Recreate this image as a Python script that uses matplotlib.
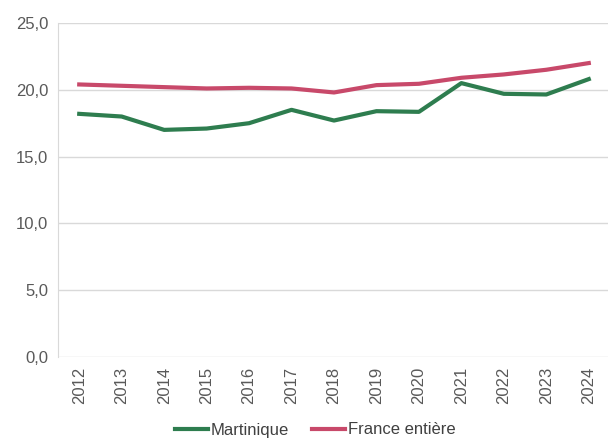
import matplotlib.pyplot as plt

plt.rcParams['font.family'] = ['Liberation Sans', 'DejaVu Sans']

years = ['2012', '2013', '2014', '2015', '2016', '2017', '2018',
         '2019', '2020', '2021', '2022', '2023', '2024']
martinique = [18.2, 18.0, 17.0, 17.1, 17.5, 18.5, 17.7, 18.4, 18.35, 20.5, 19.7, 19.65, 20.8]
france = [20.4, 20.3, 20.2, 20.1, 20.15, 20.1, 19.8, 20.35, 20.45, 20.9, 21.15, 21.5, 22.0]

fig = plt.figure(figsize=(6.08, 4.38), dpi=100)
ax = fig.add_axes([58 / 608, 1 - 357 / 438, 552 / 608, 334 / 438])

x = range(len(years))
ax.plot(x, martinique, color='#2E7D4F', linewidth=3, label='Martinique')
ax.plot(x, france, color='#C8496A', linewidth=3, label='France entière')

ax.set_xlim(-0.5, len(years) - 0.5)
ax.set_ylim(0, 25)
ax.set_yticks([0, 5, 10, 15, 20, 25])
ax.set_yticklabels(['0,0', '5,0', '10,0', '15,0', '20,0', '25,0'])
ax.set_xticks(list(x))
ax.set_xticklabels(years, rotation=90)

ax.grid(axis='y', color='#D9D9D9', linewidth=1)
ax.set_axisbelow(True)
for side in ['top', 'right', 'bottom']:
    ax.spines[side].set_visible(False)
ax.spines['left'].set_color('#D9D9D9')
ax.tick_params(axis='both', length=0, labelsize=12, colors='#595959', pad=7)

fig.legend(loc='center', bbox_to_anchor=(315 / 608, 1 - 430 / 438), ncol=2, frameon=False,
           fontsize=12, handlelength=2.0, handletextpad=0.15, columnspacing=1.4,
           labelcolor='#404040', borderpad=0)

fig.savefig('out.png', dpi=100)
